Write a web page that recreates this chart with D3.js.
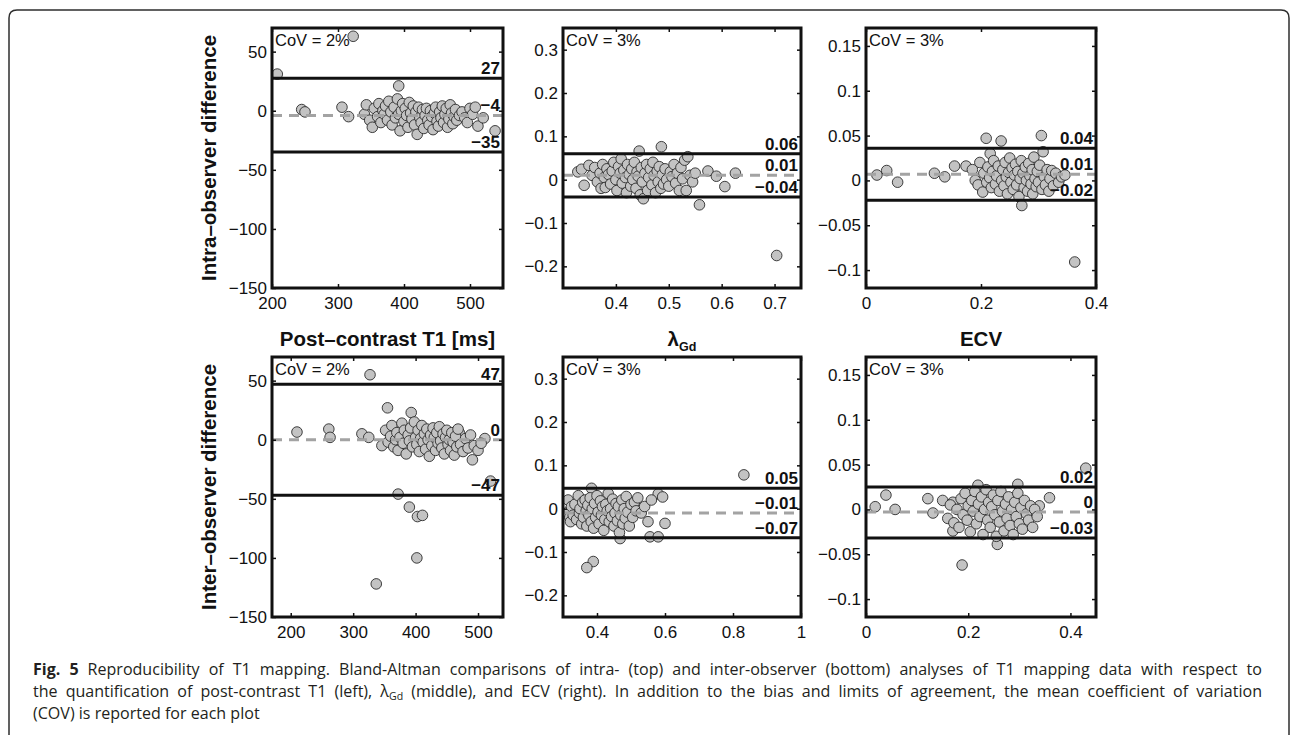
<!DOCTYPE html>
<html>
<head>
<meta charset="utf-8">
<script src="https://cdnjs.cloudflare.com/ajax/libs/d3/7.8.5/d3.min.js"></script>
<style>
body { margin: 0; background: #fff; }
</style>
</head>
<body>
<div id="fig5_id"></div>
<script>
// ---- data ----
const intra_t1 = [[208,31],[323,63],[245,1],[250,-1],[306,3],[316,-5],[392,21],
  [340,-3],[343,5],[348,-8],[352,-14],[355,2],[360,-5],[362,6],[365,-10],[368,0],[370,-3],[372,4],[375,-8],[377,8],
  [380,-1],[382,-12],[385,3],[387,-6],[390,10],[392,-3],[394,-17],[396,0],[398,6],[400,-9],[402,2],[404,-4],
  [406,-14],[408,7],[410,-2],[412,-7],[414,4],[416,-12],[418,-1],[420,-20],[422,3],[424,-6],[426,-10],[428,1],
  [430,-15],[432,-4],[434,2],[436,-8],[438,-12],[440,0],[442,-5],[444,-16],[446,-2],[448,3],[450,-9],[452,-13],
  [454,-1],[456,-6],[458,4],[460,-10],[462,-3],[464,2],[466,-14],[468,-7],[470,5],[472,-2],[474,-11],[476,-5],
  [478,1],[480,-8],[484,-4],[488,-1],[492,-6],[496,-10],[500,2],[504,-3],[508,3],[512,-13],[520,-6],[538,-17]]
const intra_lambda = [[0.328,0.018],[0.335,0.024],[0.34,-0.013],[0.349,0.033],[0.355,0.01],[0.36,0.028],[0.365,-0.005],
  [0.37,0.015],[0.372,-0.02],[0.375,0.035],[0.378,0.005],[0.38,-0.018],[0.383,0.025],[0.386,0.012],[0.39,-0.01],
  [0.393,0.02],[0.396,0.04],[0.4,0.0],[0.402,-0.025],[0.405,0.03],[0.408,0.015],[0.41,0.048],[0.412,-0.008],
  [0.415,0.022],[0.418,0.005],[0.42,-0.03],[0.422,0.035],[0.425,0.012],[0.428,-0.015],[0.43,0.025],[0.432,0.0],
  [0.435,0.04],[0.438,-0.02],[0.44,0.018],[0.442,0.008],[0.444,0.066],[0.446,-0.035],[0.448,0.028],[0.45,-0.005],
  [0.452,-0.044],[0.455,0.015],[0.458,0.035],[0.46,-0.025],[0.462,0.005],[0.465,0.025],[0.468,-0.012],[0.47,0.04],
  [0.472,0.01],[0.475,-0.03],[0.478,0.02],[0.48,-0.005],[0.482,0.03],[0.485,-0.02],[0.486,0.076],[0.488,0.012],
  [0.49,-0.01],[0.493,0.025],[0.496,0.0],[0.5,-0.015],[0.503,0.018],[0.506,0.007],[0.51,0.035],[0.513,-0.008],
  [0.516,0.015],[0.52,-0.025],[0.523,0.028],[0.526,0.002],[0.53,0.045],[0.533,-0.025],[0.536,0.053],[0.54,0.01],
  [0.545,-0.005],[0.55,0.015],[0.558,-0.058],[0.574,0.02],[0.59,0.008],[0.606,-0.016],[0.626,0.015],[0.704,-0.175]]
const intra_ecv = [[0.019,0.006],[0.036,0.011],[0.055,-0.002],[0.119,0.008],[0.137,0.004],[0.154,0.016],[0.174,0.016],
  [0.185,0.012],[0.19,0.0],[0.195,-0.005],[0.198,0.02],[0.203,-0.013],[0.205,0.008],[0.209,0.047],[0.21,-0.002],
  [0.212,0.015],[0.215,0.003],[0.216,0.03],[0.218,-0.008],[0.22,0.01],[0.222,0.022],[0.225,-0.004],[0.227,0.005],
  [0.23,0.016],[0.232,-0.012],[0.235,0.044],[0.236,0.0],[0.238,0.012],[0.24,-0.006],[0.242,0.02],[0.244,0.004],
  [0.246,-0.015],[0.248,0.009],[0.25,0.025],[0.252,-0.002],[0.254,0.014],[0.256,-0.01],[0.258,0.006],[0.26,0.018],
  [0.262,-0.005],[0.264,0.01],[0.266,-0.018],[0.268,0.002],[0.27,0.022],[0.271,-0.028],[0.273,0.008],[0.275,-0.008],
  [0.277,0.015],[0.279,0.0],[0.281,-0.012],[0.283,0.019],[0.285,0.005],[0.287,-0.004],[0.289,0.012],[0.29,-0.015],
  [0.292,0.026],[0.294,0.002],[0.296,-0.007],[0.298,0.01],[0.3,-0.002],[0.302,0.017],[0.305,0.05],[0.306,-0.01],
  [0.308,0.032],[0.31,0.004],[0.312,-0.005],[0.315,0.012],[0.318,-0.012],[0.32,0.002],[0.323,0.011],[0.326,-0.006],
  [0.33,0.008],[0.335,-0.002],[0.34,0.004],[0.346,0.006],[0.363,-0.091]]
const inter_t1 = [[210,6.5],[261,9],[263,2],[314,5],[325,2],[327,55],[346,-5],[355,27],[337,-122],[372,-46],[390,-57],
  [403,-65],[411,-64],[402,-100],[393,23],[520,-35],[491,-17],[511,1],[470,6],
  [352,8],[356,-2],[360,3],[362,12],[365,-6],[368,0],[370,6],[372,-9],[375,2],[378,14],[380,-3],[382,8],[385,-12],
  [388,4],[390,-1],[392,10],[395,-6],[398,15],[400,2],[402,-4],[404,8],[406,-10],[408,1],[410,12],[412,-2],[414,5],
  [416,-8],[418,9],[420,0],[422,-14],[424,4],[426,-5],[428,10],[430,2],[432,-9],[434,6],[436,-3],[438,11],[440,-1],
  [442,-7],[444,5],[446,-12],[448,2],[450,8],[452,-4],[454,0],[456,-9],[458,6],[460,-2],[462,-13],[464,3],[466,-6],
  [468,9],[472,-4],[476,-10],[480,1],[484,-7],[488,4],[494,-5],[500,-9],[505,-3]]
const inter_lambda = [[0.832,0.078],[0.384,0.047],[0.58,0.034],[0.593,0.027],[0.6,-0.034],[0.556,-0.065],[0.58,-0.065],
  [0.468,-0.069],[0.389,-0.122],[0.37,-0.136],
  [0.315,0.02],[0.318,-0.005],[0.32,-0.02],[0.322,-0.03],[0.325,0.005],[0.33,-0.015],[0.335,0.01],[0.34,-0.025],
  [0.345,0.03],[0.348,-0.01],[0.35,0.0],[0.355,-0.035],[0.358,0.015],[0.36,-0.02],[0.365,0.02],[0.368,-0.005],
  [0.37,-0.04],[0.373,0.008],[0.376,-0.015],[0.38,0.025],[0.383,-0.03],[0.386,0.0],[0.39,-0.045],[0.393,0.012],
  [0.396,-0.02],[0.4,0.03],[0.403,-0.008],[0.406,-0.035],[0.41,0.018],[0.413,-0.015],[0.416,0.005],[0.42,-0.05],
  [0.423,-0.025],[0.426,0.01],[0.43,-0.005],[0.433,0.035],[0.436,-0.03],[0.44,0.0],[0.443,-0.018],[0.446,0.022],
  [0.45,-0.04],[0.453,-0.01],[0.456,0.012],[0.46,-0.028],[0.463,0.005],[0.466,-0.055],[0.47,-0.015],[0.473,0.02],
  [0.476,-0.035],[0.48,0.0],[0.483,-0.022],[0.486,0.028],[0.49,-0.008],[0.495,-0.04],[0.5,0.01],[0.505,-0.02],
  [0.51,0.015],[0.515,-0.005],[0.52,0.025],[0.53,-0.01],[0.54,0.005],[0.55,-0.03],[0.56,0.02]]
const inter_ecv = [[0.018,0.003],[0.039,0.016],[0.057,0.0],[0.121,0.012],[0.131,-0.004],[0.15,0.01],[0.17,0.008],
  [0.17,-0.024],[0.188,-0.062],[0.219,0.027],[0.297,0.028],[0.257,-0.039],[0.359,0.013],[0.339,0.004],[0.43,0.046],
  [0.16,-0.01],[0.165,0.005],[0.172,-0.015],[0.178,0.0],[0.182,-0.02],[0.186,0.012],[0.19,-0.006],[0.194,0.018],
  [0.198,-0.012],[0.2,0.004],[0.204,-0.025],[0.207,0.01],[0.21,-0.002],[0.213,0.02],[0.216,-0.016],[0.22,0.006],
  [0.223,-0.008],[0.226,0.014],[0.229,-0.028],[0.232,0.0],[0.235,0.022],[0.238,-0.012],[0.24,0.008],[0.243,-0.02],
  [0.246,0.003],[0.249,0.016],[0.252,-0.006],[0.255,-0.03],[0.258,0.01],[0.261,-0.014],[0.264,0.02],[0.267,-0.002],
  [0.27,-0.024],[0.273,0.006],[0.276,-0.01],[0.279,0.014],[0.282,-0.018],[0.285,0.0],[0.288,-0.028],[0.291,0.008],
  [0.294,-0.008],[0.297,0.018],[0.3,-0.016],[0.303,0.002],[0.306,-0.022],[0.31,0.01],[0.314,-0.005],[0.318,-0.012],
  [0.322,0.004],[0.326,-0.02],[0.33,0.0],[0.335,-0.008]]

// upper limit, bias, lower limit
const intra_t1_lines = [27.5, -4, -35]
const intra_lambda_lines = [0.06, 0.01, -0.04]
const intra_ecv_lines = [0.036, 0.007, -0.022]
const inter_t1_lines = [47, 0, -47]
const inter_lambda_lines = [0.047, -0.01, -0.067]
const inter_ecv_lines = [0.025, -0.003, -0.032]

const intra_t1_labels = ["27", "\u22124", "\u221235"]
const intra_lambda_labels = ["0.06", "0.01", "\u22120.04"]
const intra_ecv_labels = ["0.04", "0.01", "\u22120.02"]
const inter_t1_labels = ["47", "0", "\u221247"]
const inter_lambda_labels = ["0.05", "\u22120.01", "\u22120.07"]
const inter_ecv_labels = ["0.02", "0", "\u22120.03"]

const cov_labels = ["CoV = 2%", "CoV = 3%", "CoV = 3%", "CoV = 2%", "CoV = 3%", "CoV = 3%"]

const yticks_t1 = [50, 0, -50, -100, -150]
const yticks_lambda = [0.3, 0.2, 0.1, 0, -0.1, -0.2]
const yticks_ecv = [0.15, 0.1, 0.05, 0, -0.05, -0.1]
const xticks_t1 = [200, 300, 400, 500]
const xticks_lambda_top = [0.4, 0.5, 0.6, 0.7]
const xticks_lambda_bot = [0.4, 0.6, 0.8, 1]
const xticks_ecv = [0, 0.2, 0.4]

// ---- layout ----
const W = 1292, H = 735
const col_x = [272, 563, 866]
const col_w = [231, 238, 230]
const row_y = [28, 357]
const panel_h = 260

const tick_font = "'Liberation Sans', Arial, Helvetica, sans-serif"
const dot_fill = "#c3c3c3"
const dot_stroke = "#2b2b2b"
const dash_color = "#a3a3a3"

const fig_svg = d3.select("#fig5_id")
	.append("svg")
	.attr("width", W)
	.attr("height", H)
	.style("display", "block")

// outer frame, rounded top corners
fig_svg.append("path")
	.attr("d", "M9,760 L9,18 Q9,10 17,10 L1281,10 Q1289,10 1289,18 L1289,760")
	.attr("fill", "none")
	.attr("stroke", "#2e2e2e")
	.attr("stroke-width", 1.5)

function minus(v){
	return String(v).replace("-", "\u2212")
}

function draw_panel(px, py, pw, ph, xdom, ydom, xticks, yticks, pts, lines, labels, cov){
	var x = d3.scaleLinear().domain(xdom).range([px, px+pw])
	var y = d3.scaleLinear().domain(ydom).range([py+ph, py])
	var g = fig_svg.append("g")

	// dots
	g.selectAll("circle")
		.data(pts)
		.enter()
		.append("circle")
		.attr("cx", d => x(d[0]))
		.attr("cy", d => y(d[1]))
		.attr("r", 5.3)
		.attr("fill", dot_fill)
		.attr("stroke", dot_stroke)
		.attr("stroke-width", 0.9)

	// limits of agreement and bias
	g.append("line")
		.attr("x1", px).attr("x2", px+pw)
		.attr("y1", y(lines[1])).attr("y2", y(lines[1]))
		.attr("stroke", dash_color)
		.attr("stroke-width", 3)
		.attr("stroke-dasharray", "10,7")
	;[lines[0], lines[2]].forEach(v => {
		g.append("line")
			.attr("x1", px).attr("x2", px+pw)
			.attr("y1", y(v)).attr("y2", y(v))
			.attr("stroke", "#111")
			.attr("stroke-width", 3)
	})
	lines.forEach((v, i) => {
		g.append("text")
			.attr("x", px+pw-3)
			.attr("y", y(v)-4)
			.attr("text-anchor", "end")
			.attr("font-family", tick_font)
			.attr("font-weight", "bold")
			.attr("font-size", 17)
			.attr("fill", "#111")
			.text(labels[i])
	})

	// axes, matlab style inward ticks
	var ax_l = g.append("g").attr("transform", "translate("+px+",0)")
		.call(d3.axisLeft(y).tickValues(yticks).tickSizeInner(-4).tickSizeOuter(0).tickPadding(5).tickFormat(minus))
	var ax_b = g.append("g").attr("transform", "translate(0,"+(py+ph)+")")
		.call(d3.axisBottom(x).tickValues(xticks).tickSizeInner(-4).tickSizeOuter(0).tickPadding(9).tickFormat(minus))
	var ax_r = g.append("g").attr("transform", "translate("+(px+pw)+",0)")
		.call(d3.axisRight(y).tickValues(yticks).tickSizeInner(-4).tickSizeOuter(0).tickFormat(""))
	var ax_t = g.append("g").attr("transform", "translate(0,"+py+")")
		.call(d3.axisTop(x).tickValues(xticks).tickSizeInner(-4).tickSizeOuter(0).tickFormat(""))
	;[ax_l, ax_b, ax_r, ax_t].forEach(a => {
		a.select(".domain").remove()
		a.selectAll("line").attr("stroke", "#111").attr("stroke-width", 1.5)
		a.selectAll("text").attr("font-family", tick_font).attr("font-size", 17).attr("fill", "#111")
	})

	g.append("rect")
		.attr("x", px).attr("y", py)
		.attr("width", pw).attr("height", ph)
		.attr("fill", "none")
		.attr("stroke", "#111")
		.attr("stroke-width", 3)

	g.append("text")
		.attr("x", px+3)
		.attr("y", py+18)
		.attr("font-family", tick_font)
		.attr("font-size", 16.5)
		.attr("fill", "#111")
		.text(cov)
}

const xdom_t1_top = [200, 550], xdom_t1_bot = [170, 540]
const xdom_lambda_top = [0.3, 0.75], xdom_lambda_bot = [0.3, 1.0]
const xdom_ecv_top = [0, 0.4], xdom_ecv_bot = [0, 0.45]
const ydom_t1 = [-150, 70], ydom_lambda = [-0.25, 0.35], ydom_ecv = [-0.12, 0.17]

draw_panel(col_x[0], row_y[0], col_w[0], panel_h, xdom_t1_top, ydom_t1, xticks_t1, yticks_t1, intra_t1, intra_t1_lines, intra_t1_labels, cov_labels[0])
draw_panel(col_x[1], row_y[0], col_w[1], panel_h, xdom_lambda_top, ydom_lambda, xticks_lambda_top, yticks_lambda, intra_lambda, intra_lambda_lines, intra_lambda_labels, cov_labels[1])
draw_panel(col_x[2], row_y[0], col_w[2], panel_h, xdom_ecv_top, ydom_ecv, xticks_ecv, yticks_ecv, intra_ecv, intra_ecv_lines, intra_ecv_labels, cov_labels[2])
draw_panel(col_x[0], row_y[1], col_w[0], panel_h, xdom_t1_bot, ydom_t1, xticks_t1, yticks_t1, inter_t1, inter_t1_lines, inter_t1_labels, cov_labels[3])
draw_panel(col_x[1], row_y[1], col_w[1], panel_h, xdom_lambda_bot, ydom_lambda, xticks_lambda_bot, yticks_lambda, inter_lambda, inter_lambda_lines, inter_lambda_labels, cov_labels[4])
draw_panel(col_x[2], row_y[1], col_w[2], panel_h, xdom_ecv_bot, ydom_ecv, xticks_ecv, yticks_ecv, inter_ecv, inter_ecv_lines, inter_ecv_labels, cov_labels[5])

// row titles (y axis)
var title_size = 20.5
;[["Intra\u2013observer difference", row_y[0]], ["Inter\u2013observer difference", row_y[1]]].forEach(r => {
	fig_svg.append("text")
		.attr("transform", "translate(216,"+(r[1]+panel_h/2)+") rotate(-90)")
		.attr("text-anchor", "middle")
		.attr("font-family", tick_font)
		.attr("font-weight", "bold")
		.attr("font-size", title_size)
		.attr("fill", "#111")
		.text(r[0])
})

// column titles
var title_y = 346
fig_svg.append("text")
	.attr("x", col_x[0]+col_w[0]/2).attr("y", title_y)
	.attr("text-anchor", "middle")
	.attr("font-family", tick_font).attr("font-weight", "bold").attr("font-size", title_size)
	.attr("fill", "#111")
	.text("Post\u2013contrast T1 [ms]")
var lam = fig_svg.append("text")
	.attr("x", col_x[1]+col_w[1]/2).attr("y", title_y)
	.attr("text-anchor", "middle")
	.attr("font-family", tick_font).attr("font-weight", "bold").attr("font-size", title_size)
	.attr("fill", "#111")
lam.append("tspan").text("\u03bb")
lam.append("tspan").attr("dy", 5).attr("font-size", 12.5).text("Gd")
fig_svg.append("text")
	.attr("x", col_x[2]+col_w[2]/2).attr("y", title_y)
	.attr("text-anchor", "middle")
	.attr("font-family", tick_font).attr("font-weight", "bold").attr("font-size", title_size)
	.attr("fill", "#111")
	.text("ECV")

// ---- caption ----
const cap_color = "#231f20"
const cap_x = 33, cap_target = 1229, cap_lead = 22
const cap_fam = "'Open Sans', 'Noto Sans', sans-serif"
const cap_lines = [
	[{s:"Fig. 5 ", b:true}, {s:"Reproducibility of T1 mapping. Bland-Altman comparisons of intra- (top) and inter-observer (bottom) analyses of T1 mapping data with respect to"}],
	[{s:"the quantification of post-contrast T1 (left), \u03bb"}, {s:"Gd", sub:true}, {s:" (middle), and ECV (right). In addition to the bias and limits of agreement, the mean coefficient of variation"}],
	[{s:"(COV) is reported for each plot"}]]
const cap_base = [675, 697, 719]

function text_w(s, size, bold){
	var t = fig_svg.append("text")
		.attr("font-family", cap_fam).attr("font-size", size)
		.attr("font-weight", bold ? "bold" : "normal")
		.style("white-space", "pre")
		.text(s)
	var w = t.node().getComputedTextLength()
	t.remove()
	return w
}
function line_w(parts, size){
	return d3.sum(parts, p => text_w(p.s, p.sub ? size*0.66 : size, p.b))
}

// size so the first line fills the text block; keep line boxes inside the 22px leading
var cap_size = 18*cap_target/line_w(cap_lines[0], 18)
cap_size = Math.min(cap_size, cap_lead/1.37)

cap_lines.forEach((parts, li) => {
	var nodes = parts.map(p => fig_svg.append("text")
		.attr("y", cap_base[li] + (p.sub ? 3 : 0))
		.attr("font-family", cap_fam)
		.attr("font-size", p.sub ? cap_size*0.66 : cap_size)
		.attr("font-weight", p.b ? "bold" : "normal")
		.style("white-space", "pre")
		.attr("fill", cap_color)
		.text(p.s))
	var total = d3.sum(nodes, t => t.node().getComputedTextLength())
	// justified block: spread the first two lines
	if (li < 2 && total < cap_target){
		var n = d3.sum(parts, p => (p.s.match(/ /g) || []).length)
		nodes.forEach(t => t.attr("word-spacing", (cap_target-total)/n))
	}
	var xx = cap_x
	nodes.forEach(t => {
		t.attr("x", xx)
		xx += t.node().getComputedTextLength()
	})
})
</script>
</body>
</html>
